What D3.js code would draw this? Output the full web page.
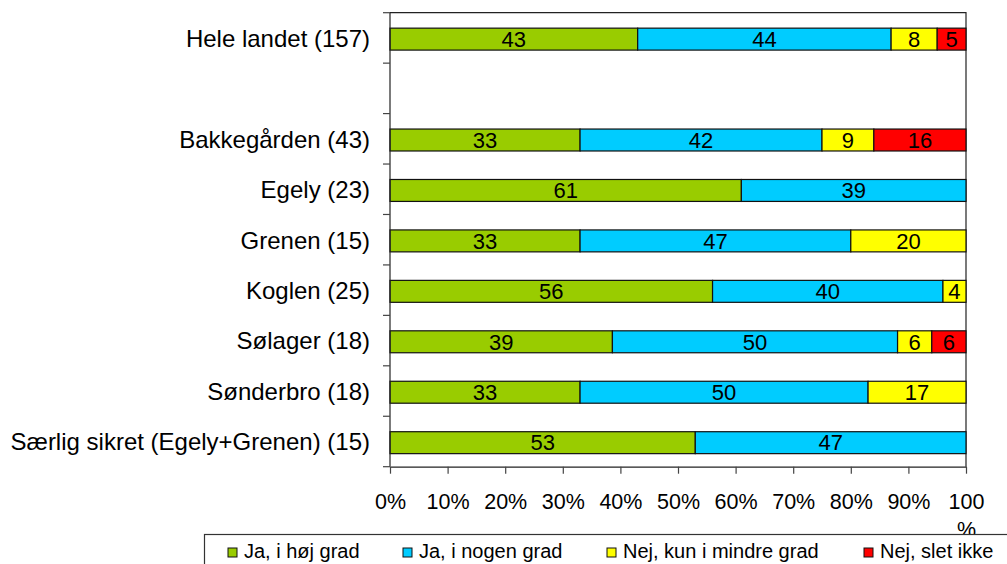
<!DOCTYPE html>
<html>
<head>
<meta charset="utf-8">
<script src="https://cdn.jsdelivr.net/npm/d3@7"></script>
<style>
  html, body { margin: 0; padding: 0; background: #fff; }
  svg { display: block; font-family: "Liberation Sans", Arial, sans-serif; }
</style>
</head>
<body>
<svg id="chart" width="1007" height="564"></svg>
<script>
// Rows from top to bottom; the empty string is a spacer row.
const categories = [
  "Hele landet (157)",
  "",
  "Bakkegården (43)",
  "Egely (23)",
  "Grenen (15)",
  "Koglen (25)",
  "Sølager (18)",
  "Sønderbro (18)",
  "Særlig sikret (Egely+Grenen) (15)"
];
const seriesNames = ["Ja, i høj grad", "Ja, i nogen grad", "Nej, kun i mindre grad", "Nej, slet ikke"];
const hoejGrad    = [43, null, 33, 61, 33, 56, 39, 33, 53];
const nogenGrad   = [44, null, 42, 39, 47, 40, 50, 50, 47];
const mindreGrad  = [8,  null, 9,  0,  20, 4,  6,  17, 0];
const sletIkke    = [5,  null, 16, 0,  0,  0,  6,  0,  0];
const xTicks = [0, 10, 20, 30, 40, 50, 60, 70, 80, 90, 100];
const colors = ["#99CC00", "#00CCFF", "#FFFF00", "#FF0000"];

const keys = ["s0", "s1", "s2", "s3"];
const series = [hoejGrad, nogenGrad, mindreGrad, sletIkke];
const rows = categories.map((c, i) => {
  const r = { key: "row" + i, label: c };
  series.forEach((s, j) => { r[keys[j]] = s[i] == null ? 0 : s[i]; });
  r.empty = hoejGrad[i] == null;
  return r;
});

const svg = d3.select("#chart");
const plotLeft = 390, plotRight = 966, plotTop = 12.7, plotBottom = 466.7;

const x = d3.scaleLinear().domain([0, 100]).range([plotLeft, plotRight]);
const y = d3.scaleBand()
  .domain(rows.map(r => r.key))
  .range([plotTop, plotBottom])
  .paddingInner(0.565)
  .paddingOuter(0.2825);

// 100% stacked: each row is normalised to its own total
const stack = d3.stack().keys(keys).offset(d3.stackOffsetExpand);
const stacked = stack(rows.filter(r => !r.empty));

// Plot frame (top and right sides)
svg.append("path")
  .attr("d", `M${plotLeft},${plotTop}H${plotRight}V${plotBottom}`)
  .attr("fill", "none").attr("stroke", "#222").attr("stroke-width", 1.2);

// Bars
const barShift = 1.2;
stacked.forEach((layer, j) => {
  const segs = layer.filter(d => d.data[keys[j]] > 0);
  const g = svg.append("g").attr("transform", `translate(0,${barShift})`);
  g.selectAll("rect").data(segs).join("rect")
    .attr("x", d => x(d[0] * 100))
    .attr("width", d => x(d[1] * 100) - x(d[0] * 100))
    .attr("y", d => y(d.data.key))
    .attr("height", y.bandwidth())
    .attr("fill", colors[j])
    .attr("stroke", "#111")
    .attr("stroke-width", 1.2);
  g.selectAll("text").data(segs).join("text")
    .attr("x", d => (x(d[0] * 100) + x(d[1] * 100)) / 2)
    .attr("y", d => y(d.data.key) + y.bandwidth() / 2 + 7.8)
    .attr("text-anchor", "middle")
    .attr("font-size", 22)
    .attr("fill", "#000")
    .text(d => d.data[keys[j]]);
});

// Category axis (ticks at row boundaries)
const step = y.step();
const gy = svg.append("g");
gy.append("line")
  .attr("x1", plotLeft).attr("x2", plotLeft).attr("y1", plotTop).attr("y2", plotBottom)
  .attr("stroke", "#222").attr("stroke-width", 1.2);
gy.selectAll("line.tick").data(d3.range(categories.length + 1)).join("line")
  .attr("class", "tick")
  .attr("x1", plotLeft - 7).attr("x2", plotLeft)
  .attr("y1", i => plotTop + i * step).attr("y2", i => plotTop + i * step)
  .attr("stroke", "#444").attr("stroke-width", 1.2);
gy.selectAll("text").data(rows).join("text")
  .attr("x", 370)
  .attr("y", d => y(d.key) + y.bandwidth() / 2 + 8.8)
  .attr("text-anchor", "end")
  .attr("font-size", 24)
  .attr("fill", "#000")
  .text(d => d.label);

// Percentage axis
const gx = svg.append("g").attr("transform", `translate(0,${plotBottom})`)
  .call(d3.axisBottom(x).tickValues(xTicks).tickSize(7).tickSizeOuter(0).tickFormat(d => d + "%"));
gx.select(".domain").attr("stroke", "#222").attr("stroke-width", 1.2);
gx.selectAll(".tick line").attr("stroke", "#444").attr("stroke-width", 1.2);
gx.selectAll(".tick text")
  .attr("font-size", 21.5)
  .attr("font-family", "Liberation Sans, Arial, sans-serif")
  .attr("fill", "#000")
  .attr("y", 42.3)
  .attr("dy", 0)
  .each(function(d) {
    if (d === 100) {
      const t = d3.select(this).text(null);
      t.append("tspan").attr("x", 0).text("100");
      t.append("tspan").attr("x", 0).attr("dy", 28).text("%");
    }
  });

// Legend
const lg = svg.append("g");
lg.append("rect")
  .attr("x", 204.5).attr("y", 534.5).attr("width", 900).attr("height", 60)
  .attr("fill", "#fff").attr("stroke", "#333").attr("stroke-width", 1.2);
const legendX = [228, 403, 607, 864];
seriesNames.forEach((name, j) => {
  lg.append("rect")
    .attr("x", legendX[j]).attr("y", 548).attr("width", 9).attr("height", 9)
    .attr("fill", colors[j]).attr("stroke", "#111").attr("stroke-width", 1);
  lg.append("text")
    .attr("x", legendX[j] + 16).attr("y", 557.5)
    .attr("font-size", 20).attr("fill", "#000")
    .text(name);
});
</script>
</body>
</html>
